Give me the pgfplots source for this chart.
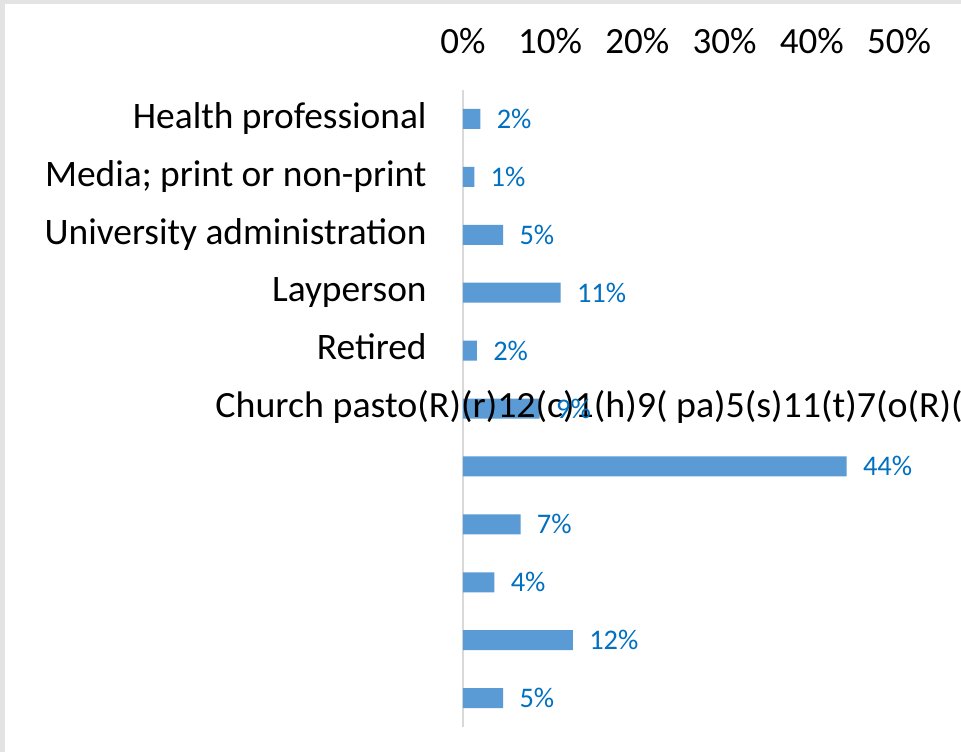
\documentclass[border=0pt]{standalone}
\usepackage{fontspec}
\setmainfont{Carlito}
\usepackage{graphicx}
\usepackage{pgfplots}
\pgfplotsset{compat=1.18}
\definecolor{barblue}{HTML}{5B9BD5}
\definecolor{lblblue}{HTML}{0070C0}
\definecolor{axgray}{HTML}{D9D9D9}
\definecolor{framegray}{HTML}{E3E3E3}
\begin{document}
\begin{tikzpicture}
\fill[framegray] (-231.5pt,-12.5pt) rectangle (249pt,363.5pt);
\fill[white] (-229pt,-12.5pt) rectangle (249pt,361.5pt);
\begin{axis}[
  at={(0,0)}, anchor=south west,
  scale only axis, width=218pt, height=318.5pt,
  xbar, bar width=10pt,
  xmin=0, xmax=50, ymin=-0.5, ymax=10.5, y dir=reverse,
  xtick={0,10,20,30,40,50},
  xticklabels={0\%,10\%,20\%,30\%,40\%,50\%},
  xticklabel pos=upper,
  ytick={0,1,2,3,4,5,6,7,8,9,10},
  yticklabels={Health professional, Media; print or non-print, University administration, Layperson, Retired, {}, {}, {}, {}, {}, {}},
  major tick length=0pt,
  axis line style={draw=none},
  tick style={draw=none},
  xticklabel style={font=\fontsize{18.5}{22}\selectfont, anchor=base, inner sep=0pt, yshift=18.5pt},
  yticklabel style={font=\fontsize{18.7}{22}\selectfont, anchor=east, inner sep=0pt, xshift=-18pt, text height=13.9pt, text depth=4.6pt},
  clip=false,
  point meta=explicit symbolic,
  nodes near coords,
  nodes near coords style={font=\fontsize{14.2}{17}\selectfont, color=lblblue, anchor=west, inner sep=0pt, xshift=8pt},
]
\draw[axgray, line width=1pt] (rel axis cs:0,0) -- (rel axis cs:0,1);
\addplot[fill=barblue, draw=none] coordinates {
  (2.0,0) [2\%]
  (1.3,1) [1\%]
  (4.6,2) [5\%]
  (11.2,3) [11\%]
  (1.6,4) [2\%]
  (8.8,5) [9\%]
  (44.0,6) [44\%]
  (6.6,7) [7\%]
  (3.6,8) [4\%]
  (12.6,9) [12\%]
  (4.6,10) [5\%]
};
\node[overlay, anchor=west, inner sep=0pt, font=\fontsize{18.5}{22}\selectfont, text height=13.9pt, text depth=4.6pt, xshift=-124pt] at (axis cs:0,5) {\scalebox{1.025}[1]{Church pasto(R)(r)12(c)1(h)9( pa)5(s)11(t)7(o(R)(}};
\end{axis}
\pgfresetboundingbox
\useasboundingbox (-231.5pt,-12.5pt) rectangle (249pt,363.5pt);
\end{tikzpicture}
\end{document}
